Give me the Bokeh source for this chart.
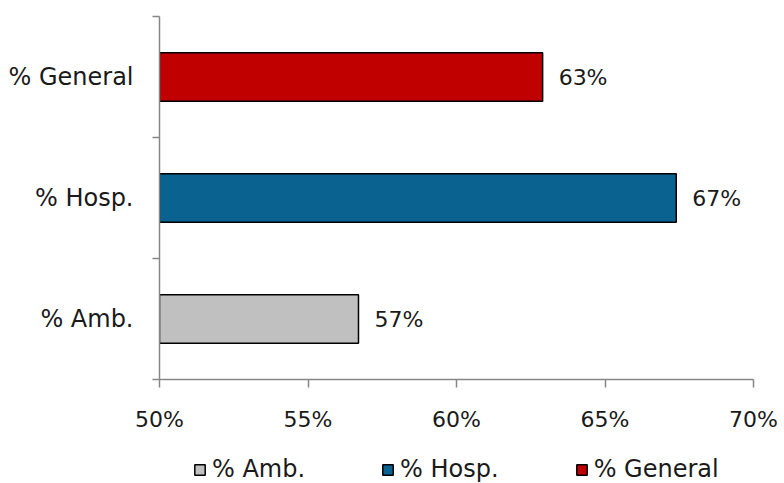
from bokeh.plotting import figure
from bokeh.layouts import column
from bokeh.models import (FixedTicker, PrintfTickFormatter, Range1d, Legend, LegendItem)
from bokeh.core.properties import value
from bokeh.embed import file_html
from bokeh.resources import INLINE

# Categories (bottom to top) and their shares in percent
categories = ["% Amb.", "% Hosp.", "% General"]
shares = [56.7, 67.4, 62.9]
colors = ["#C0C0C0", "#0A6290", "#C00000"]
x_ticks = [50, 55, 60, 65, 70]

FONT = "DejaVu Sans"
FS_NUM = "22px"
FS_CAT = "24px"
TEXT_COLOR = "#1a1a1a"
AXIS_COLOR = "#868686"

MAIN_H = 440
TOTAL_H = 483

p = figure(width=784, height=MAIN_H, output_backend="svg", toolbar_location=None,
           x_range=Range1d(50, 70), y_range=Range1d(0, len(categories)),
           min_border_left=159, min_border_right=31, min_border_top=16,
           min_border_bottom=MAIN_H - 379)
p.outline_line_color = None
p.grid.grid_line_color = None
p.background_fill_color = "white"
p.border_fill_color = "white"

pos = [i + 0.5 for i in range(len(categories))]
bar_style = dict(height=0.4, line_color="black", line_width=1.5)
for i, (v, c) in enumerate(zip(shares, colors)):
    p.hbar(y=[pos[i]], left=50, right=[v], fill_color=c, **bar_style)

# Value labels next to bar ends
p.text(x=shares, y=pos, text=[f"{round(v)}%" for v in shares],
       x_offset=16, text_align="left", text_baseline="middle",
       text_font=value(FONT), text_font_size=FS_NUM, text_color=TEXT_COLOR)

# x axis
xa = p.xaxis[0]
xa.ticker = FixedTicker(ticks=x_ticks, minor_ticks=[])
xa.formatter = PrintfTickFormatter(format="%d%%")
xa.axis_line_color = AXIS_COLOR
xa.axis_line_width = 1.5
xa.major_tick_line_color = AXIS_COLOR
xa.major_tick_line_width = 1.5
xa.major_tick_in = 0
xa.major_tick_out = 8
xa.minor_tick_line_color = None
xa.major_label_text_font = FONT
xa.major_label_text_font_size = FS_NUM
xa.major_label_text_color = TEXT_COLOR
xa.major_label_standoff = 19

# y axis: labels at band centres, ticks at band boundaries
ya = p.yaxis[0]
ya.ticker = FixedTicker(ticks=pos, minor_ticks=list(range(len(categories) + 1)))
ya.major_label_overrides = {p_: c for p_, c in zip(pos, categories)}
ya.axis_line_color = AXIS_COLOR
ya.axis_line_width = 1.5
ya.major_tick_line_color = None
ya.major_tick_in = 0
ya.major_tick_out = 0
ya.minor_tick_line_color = AXIS_COLOR
ya.minor_tick_line_width = 1.5
ya.minor_tick_in = 0
ya.minor_tick_out = 7
ya.major_label_text_font = FONT
ya.major_label_text_font_size = FS_CAT
ya.major_label_text_color = TEXT_COLOR
ya.major_label_standoff = 19

# Legend strip underneath the chart (its frame lines up with the chart's frame)
leg = figure(width=784, height=TOTAL_H - MAIN_H, output_backend="svg", toolbar_location=None,
             x_axis_location=None, y_axis_location=None,
             x_range=Range1d(50, 70), y_range=Range1d(0, len(categories)),
             min_border=0)
leg.outline_line_color = None
leg.grid.grid_line_color = None
leg.xgrid.visible = False
leg.ygrid.visible = False
leg.background_fill_color = "white"
leg.border_fill_color = "white"
leg_renderers = []
for i, (v, c) in enumerate(zip(shares, colors)):
    r = leg.hbar(y=[pos[i]], left=50, right=[v], fill_color=c, visible=False, **bar_style)
    leg_renderers.append(r)

legend = Legend(items=[LegendItem(label=c, renderers=[r])
                       for c, r in zip(categories, leg_renderers)],
                orientation="horizontal", location=(34, 0),
                padding=0, margin=0, spacing=76,
                glyph_width=13, glyph_height=13, label_standoff=6,
                label_text_font=FONT, label_text_font_size=FS_CAT,
                label_text_color=TEXT_COLOR,
                inactive_fill_alpha=0,
                border_line_alpha=0, background_fill_alpha=0)
leg.add_layout(legend, "center")

layout = column(p, leg, spacing=0)
open("out.html", "w").write(file_html(layout, INLINE))
